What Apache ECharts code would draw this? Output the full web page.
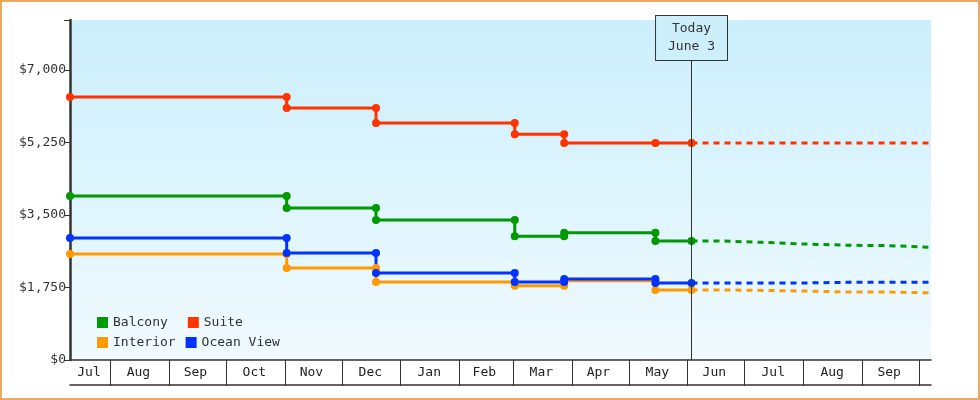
<!DOCTYPE html>
<html><head><meta charset="utf-8">
<script src="https://cdn.jsdelivr.net/npm/echarts@6/dist/echarts.min.js"></script>
<style>html,body{margin:0;padding:0;background:#fff}#c{width:980px;height:400px;box-sizing:border-box;border:2px solid #eaa860}</style>
</head><body><div id="c"></div>
<script>
const xStart='2022-07-11', xEnd='2023-10-07', today='2023-06-03';
const monthStarts=['2022-08-01','2022-09-01','2022-10-01','2022-11-01','2022-12-01','2023-01-01','2023-02-01','2023-03-01','2023-04-01','2023-05-01','2023-06-01','2023-07-01','2023-08-01','2023-09-01','2023-10-01'];
const monthMids=['2022-07-21','2022-08-16','2022-09-15','2022-10-16','2022-11-15','2022-12-16','2023-01-16','2023-02-14','2023-03-16','2023-04-15','2023-05-16','2023-06-15','2023-07-16','2023-08-16','2023-09-15'];
const monthLabels=['Jul','Aug','Sep','Oct','Nov','Dec','Jan','Feb','Mar','Apr','May','Jun','Jul','Aug','Sep'];
const changeDates=['2022-07-11','2022-11-02','2022-12-19','2023-03-02','2023-03-28','2023-05-15','2023-06-03'];
const balcony=[3960,3670,3380,2990,3070,2870,2870];
const suite=[6350,6080,5720,5450,5240,5240,5240];
const interior=[2560,2220,1880,1790,1910,1690,1690];
const ocean=[2945,2580,2100,1880,1955,1860,1860];
const fcDates=['2023-06-03','2023-06-20','2023-07-10','2023-08-01','2023-08-25','2023-09-15','2023-10-07'];
const balconyFc=[2870,2840,2800,2770,2760,2720,2700];
const suiteFc=[5240,5240,5240,5240,5240,5240,5240];
const interiorFc=[1690,1680,1665,1640,1640,1620,1615];
const oceanFc=[1860,1860,1860,1875,1875,1875,1875];

const T=s=>Date.parse(s+'T00:00:00Z');
function steps(v){const d=[[T(changeDates[0]),v[0]]];
 for(let i=1;i<changeDates.length;i++){d.push([T(changeDates[i]),v[i-1]]);if(v[i]!==v[i-1])d.push([T(changeDates[i]),v[i]]);}
 return d;}
const font='DejaVu Sans Mono';
const colors={Balcony:'#009900',Suite:'#ff3300',Interior:'#ff9900','Ocean View':'#0033ff'};
const vals={Balcony:balcony,Suite:suite,Interior:interior,'Ocean View':ocean};
const fcs={Balcony:balconyFc,Suite:suiteFc,Interior:interiorFc,'Ocean View':oceanFc};
const series=[];
Object.keys(vals).forEach(n=>{
 series.push({name:n,type:'line',data:steps(vals[n]),symbol:'circle',symbolSize:8,color:colors[n],lineStyle:{width:3},z:3});
 series.push({name:n,type:'line',data:fcDates.map((d,i)=>[T(d),fcs[n][i]]),showSymbol:false,color:colors[n],lineStyle:{width:3,type:[6,5]},step:'end'});
});
series[0].markLine={symbol:'none',silent:true,lineStyle:{color:'#333',width:1,type:'solid'},
 label:{position:'end',distance:0,formatter:'Today\nJune 3',fontFamily:font,fontSize:13,color:'#333',backgroundColor:'#cdeffc',borderColor:'#333',borderWidth:1,padding:[4,12],lineHeight:18},
 data:[[{coord:[T(today),0]},{coord:[T(today),7240]}]]};
const mids=monthMids.map(T);
const chart=echarts.init(document.getElementById('c'));
chart.setOption({
 animation:false,
 textStyle:{fontFamily:font},
 grid:{left:68,right:47,top:18,bottom:38,show:true,borderWidth:0,
   backgroundColor:new echarts.graphic.LinearGradient(0,0,0,1,[{offset:0,color:'#cbeffc'},{offset:1,color:'#f0fafe'}])},
 legend:[{data:['Balcony','Suite'],left:90,top:309,itemWidth:11,itemHeight:11,itemGap:20,icon:'rect',textStyle:{fontFamily:font,fontSize:13,color:'#333'},selectedMode:false},
   {data:['Interior','Ocean View'],left:90,top:329,itemWidth:11,itemHeight:11,itemGap:10,icon:'rect',textStyle:{fontFamily:font,fontSize:13,color:'#333'},selectedMode:false}],
 xAxis:[{type:'value',min:T(xStart),max:T(xEnd),axisLine:{lineStyle:{color:'#333',width:1.5}},
   axisTick:{customValues:monthStarts.map(T),length:26,lineStyle:{color:'#333'}},
   axisLabel:{customValues:mids,formatter:(v)=>{const i=mids.indexOf(v);return i>=0?monthLabels[i]:'';},margin:6,fontFamily:font,fontSize:13,color:'#222'},
   splitLine:{show:false}},
  {type:'value',min:T(xStart),max:T(xEnd),position:'bottom',offset:25,axisLine:{show:true,lineStyle:{color:'#333',width:1.5}},axisTick:{show:false},axisLabel:{show:false},splitLine:{show:false}}],
 yAxis:{type:'value',min:0,max:8207,interval:1750,axisLine:{show:true,lineStyle:{color:'#333',width:2.5}},
   axisTick:{show:true,length:6,lineStyle:{color:'#333'}},splitLine:{show:false},
   axisLabel:{fontFamily:font,fontSize:13,color:'#333',formatter:v=>v>8000?'':'$'+v.toLocaleString('en-US'),margin:4}},
 series
});
</script></body></html>
